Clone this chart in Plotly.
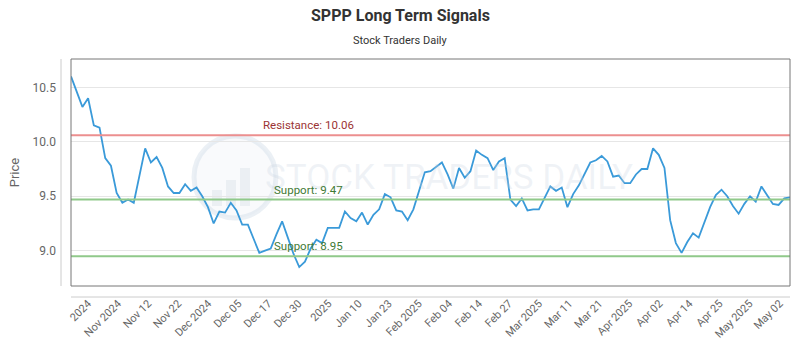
import plotly.graph_objects as go

# ---- data ----
prices = [
    10.60, 10.46, 10.32, 10.40, 10.15, 10.13, 9.85, 9.78, 9.53, 9.44,
    9.47, 9.44, 9.69, 9.94, 9.81, 9.86, 9.76, 9.59, 9.53, 9.53,
    9.61, 9.55, 9.58, 9.50, 9.40, 9.25, 9.36, 9.35, 9.44, 9.37,
    9.24, 9.24, 9.11, 8.98, 9.00, 9.02, 9.15, 9.27, 9.12, 8.97,
    8.85, 8.90, 9.02, 9.10, 9.07, 9.21, 9.21, 9.21, 9.36, 9.30,
    9.27, 9.35, 9.24, 9.33, 9.38, 9.52, 9.49, 9.37, 9.36, 9.28,
    9.38, 9.55, 9.72, 9.73, 9.77, 9.81, 9.70, 9.57, 9.76, 9.67,
    9.73, 9.92, 9.88, 9.85, 9.74, 9.82, 9.85, 9.47, 9.41, 9.48,
    9.37, 9.38, 9.38, 9.48, 9.59, 9.55, 9.58, 9.40, 9.52, 9.60,
    9.70, 9.81, 9.83, 9.87, 9.82, 9.68, 9.69, 9.62, 9.62, 9.70,
    9.75, 9.75, 9.94, 9.88, 9.76, 9.28, 9.07, 8.98, 9.08, 9.16,
    9.12, 9.27, 9.40, 9.51, 9.56, 9.50, 9.41, 9.34, 9.43, 9.50,
    9.45, 9.59, 9.51, 9.43, 9.42, 9.48, 9.49,
]
tick_labels = [
    "2024", "Nov 2024", "Nov 12", "Nov 22", "Dec 2024", "Dec 05", "Dec 17",
    "Dec 30", "2025", "Jan 10", "Jan 23", "Feb 2025", "Feb 04", "Feb 14",
    "Feb 27", "Mar 2025", "Mar 11", "Mar 21", "Apr 2025", "Apr 02",
    "Apr 14", "Apr 25", "May 2025", "May 02",
]
resistance = 10.06
supports = [9.47, 8.95]
title_text = "SPPP Long Term Signals"
subtitle_text = "Stock Traders Daily"
watermark_text = "STOCK TRADERS DAILY"

# ---- layout helpers ----
n = len(prices)
x_idx = list(range(n))
tick_first = 2.98
tick_step = 5.27
tick_vals = [tick_first + k * tick_step for k in range(len(tick_labels))]

FONT = "Roboto, 'Open Sans', sans-serif"
W, H = 800, 350
ML, MR, MT, MB = 71, 10, 59, 64
pw = W - ML - MR
ph = H - MT - MB

fig = go.Figure()

fig.add_trace(go.Scatter(
    x=x_idx, y=prices, mode="lines",
    line=dict(color="#3a9ad9", width=1.8),
    hoverinfo="skip", showlegend=False,
))

shapes = []
annotations = []

# watermark logo (faint)
shapes.append(dict(type="circle", xref="paper", yref="paper",
                   x0=(194 - ML) / pw, x1=(276 - ML) / pw,
                   y0=(H - MB - 218) / ph, y1=(H - MB - 136) / ph,
                   line=dict(color="rgba(205,218,230,0.4)", width=5),
                   fillcolor="rgba(235,240,245,0.3)", layer="below"))
for bx0, bx1, btop in [(212, 222, 190), (226, 236, 180), (240, 250, 168)]:
    shapes.append(dict(type="rect", xref="paper", yref="paper",
                       x0=(bx0 - ML) / pw, x1=(bx1 - ML) / pw,
                       y0=(H - MB - 206) / ph, y1=(H - MB - btop) / ph,
                       line=dict(width=0), fillcolor="rgba(215,222,230,0.4)",
                       layer="below"))
annotations.append(dict(text=watermark_text, xref="paper", yref="paper",
                        x=(449 - ML) / pw, y=(H - MB - 177) / ph,
                        xanchor="center", yanchor="middle", showarrow=False,
                        font=dict(family=FONT, size=35,
                                  color="rgba(200,212,225,0.28)")))

# resistance / support lines
shapes.append(dict(type="line", xref="paper", yref="y", x0=0, x1=1,
                   y0=resistance, y1=resistance,
                   line=dict(color="#ec8f8f", width=2), layer="above"))
annotations.append(dict(text="Resistance: %.2f" % resistance, xref="x", yref="y",
                        x=33.3, y=resistance, xanchor="left", yanchor="bottom",
                        yshift=1, showarrow=False,
                        font=dict(family=FONT, size=11.5, color="#9b3434")))
for s in supports:
    shapes.append(dict(type="line", xref="paper", yref="y", x0=0, x1=1,
                       y0=s, y1=s, line=dict(color="#90c98a", width=2),
                       layer="above"))
    annotations.append(dict(text="Support: %.2f" % s, xref="x", yref="y",
                            x=35.3, y=s, xanchor="left", yanchor="bottom",
                            yshift=1, showarrow=False,
                            font=dict(family=FONT, size=11.5, color="#3f7a35")))

# plot border
shapes.append(dict(type="rect", xref="paper", yref="paper", x0=0, x1=1, y0=0, y1=1,
                   line=dict(color="#777777", width=1), layer="above"))
# offset axis lines
shapes.append(dict(type="line", xref="paper", yref="paper",
                   x0=0, x1=1, y0=-11 / ph, y1=-11 / ph,
                   line=dict(color="#cccccc", width=1)))
shapes.append(dict(type="line", xref="paper", yref="paper",
                   x0=-10 / pw, x1=-10 / pw, y0=0, y1=1,
                   line=dict(color="#cccccc", width=1)))

# titles
annotations.append(dict(text="<b>%s</b>" % title_text, xref="paper", yref="paper",
                        x=0.5 - (ML - MR) / 2 / pw, y=(H - MB - 15) / ph,
                        xanchor="center", yanchor="middle", showarrow=False,
                        font=dict(family=FONT, size=16, color="#333333")))
annotations.append(dict(text=subtitle_text, xref="paper", yref="paper",
                        x=0.5 - (ML - MR) / 2 / pw, y=(H - MB - 40) / ph,
                        xanchor="center", yanchor="middle", showarrow=False,
                        font=dict(family=FONT, size=11, color="#333333")))

fig.update_layout(
    width=W, height=H,
    margin=dict(l=ML, r=MR, t=MT, b=MB, autoexpand=False),
    paper_bgcolor="white", plot_bgcolor="white",
    font=dict(family=FONT, color="#666666"),
    shapes=shapes, annotations=annotations,
    xaxis=dict(range=[0, n - 1], tickmode="array", tickvals=tick_vals,
               ticktext=tick_labels, tickangle=-45, showgrid=False,
               zeroline=False, showline=False, ticks="",
               tickfont=dict(family=FONT, size=11, color="#666666"),
               ticklabelstandoff=8, fixedrange=True),
    yaxis=dict(range=[8.676, 10.76], dtick=0.5, tick0=9.0, tickformat=".1f",
               showgrid=True, gridcolor="#e6e6e6", gridwidth=1,
               zeroline=False, showline=False, ticks="",
               tickfont=dict(family=FONT, size=12, color="#666666"),
               ticklabelstandoff=14,
               title=dict(text="Price", standoff=10,
                          font=dict(family=FONT, size=13, color="#666666")),
               fixedrange=True),
)

fig.write_html("out.html")
